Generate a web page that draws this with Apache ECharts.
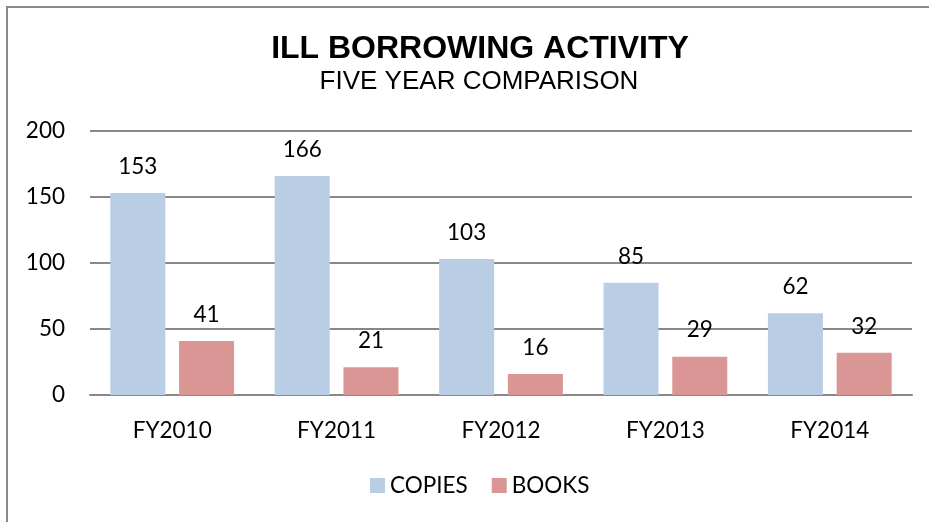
<!DOCTYPE html>
<html><head><meta charset="utf-8">
<script src="https://cdn.jsdelivr.net/npm/echarts@6/dist/echarts.min.js"></script>
<style>
html,body{margin:0;padding:0;background:#fff;}
#frame{position:absolute;left:6px;top:6px;width:940px;height:540px;border:2px solid #8a8a8a;box-sizing:border-box;}
#c{position:absolute;left:0;top:0;width:929px;height:522px;}
</style></head>
<body>
<div id="frame"></div>
<div id="c"></div>
<script>
const categories = ['FY2010','FY2011','FY2012','FY2013','FY2014'];
const copies = [153,166,103,85,62];
const books = [41,21,16,29,32];
const yTicks = [0,50,100,150,200];

const chart = echarts.init(document.getElementById('c'));
const lblFont = 'Lato, "Open Sans", sans-serif';
chart.setOption({
  animation:false,
  title:[{
    text:'ILL BORROWING ACTIVITY',
    left:475, top:28, textAlign:'center',
    textStyle:{fontFamily:'"Liberation Sans", Arial, sans-serif',fontWeight:'bold',fontSize:32,color:'#000'}
  },{
    text:'FIVE YEAR COMPARISON',
    left:474, top:64, textAlign:'center',
    textStyle:{fontFamily:'"Liberation Sans", Arial, sans-serif',fontWeight:'normal',fontSize:26,color:'#000'}
  }],
  legend:{
    bottom:20, left:365, itemWidth:15, itemHeight:15, itemGap:24, icon:'rect',
    textStyle:{fontFamily:lblFont,fontSize:22.5,color:'#000'},
    data:['COPIES','BOOKS']
  },
  grid:{left:90,right:17,top:131,bottom:127},
  xAxis:{
    type:'category', data:categories,
    axisLine:{lineStyle:{color:'#888',width:2}},
    axisTick:{show:false},
    axisLabel:{fontFamily:lblFont,fontSize:22.5,color:'#000',margin:24}
  },
  yAxis:{
    type:'value', min:0, max:200, interval:50,
    axisLine:{show:false}, axisTick:{show:false},
    splitLine:{lineStyle:{color:'#888',width:2}},
    axisLabel:{fontFamily:lblFont,fontSize:22.5,color:'#000',margin:25,
      formatter:v=>yTicks.includes(v)?String(v):''}
  },
  series:[
    {name:'COPIES',type:'bar',data:copies,barWidth:55,barGap:'25%',
     itemStyle:{color:'#B9CDE5'},
     label:{show:true,position:'top',distance:15,fontFamily:lblFont,fontSize:22.5,color:'#000'}},
    {name:'BOOKS',type:'bar',data:books,barWidth:55,
     itemStyle:{color:'#D99694'},
     label:{show:true,position:'top',distance:15,fontFamily:lblFont,fontSize:22.5,color:'#000'}}
  ]
});
</script>
</body></html>
